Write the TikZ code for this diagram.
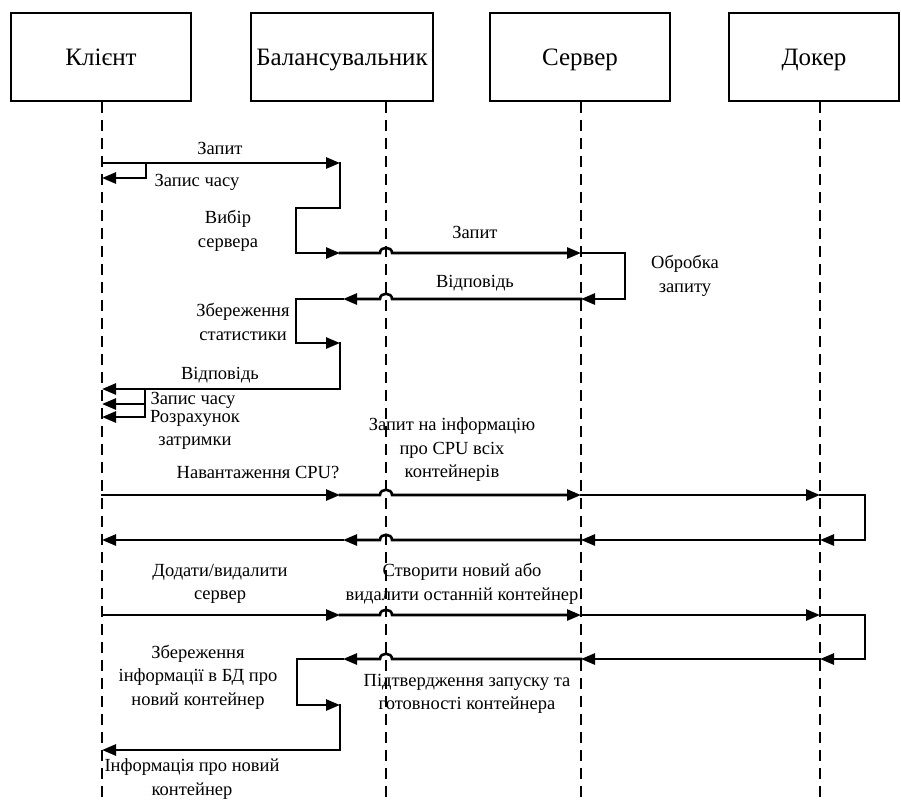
\documentclass[tikz,border=0pt]{standalone}
\usepackage{fontspec}
\setmainfont{Liberation Serif}
\usetikzlibrary{arrows.meta}
\begin{document}
\begin{tikzpicture}[x=1pt,y=-1pt,
  box/.style={draw,line width=2.6pt,minimum height=88pt,inner sep=0pt,text height=17pt,text depth=1pt,font=\fontsize{25}{30}\selectfont},
  life/.style={line width=2.6pt,dash pattern=on 11pt off 7pt},
  msg/.style={line width=2.6pt,line cap=rect},
  arr/.style={msg,-{Triangle[length=14pt,width=11pt]}},
  lbl/.style={align=center,inner sep=0pt,font=\fontsize{18.5}{23.5}\selectfont}]
\useasboundingbox (0,0) rectangle (901,800);
% participants
\node[box,minimum width=180pt] (kl) at (101,57) {Клієнт};
\node[box,minimum width=182pt] (bal) at (342,57) {Балансувальник};
\node[box,minimum width=180pt] (srv) at (580,57) {Сервер};
\node[box,minimum width=170pt] (dok) at (814,57) {Докер};
% lifelines
\coordinate (klend) at (102,800);
\coordinate (balend) at (386,800);
\coordinate (srvend) at (581,800);
\coordinate (dokend) at (820,800);
\draw[life] (102,102) -- (klend);
\draw[life] (386,102) -- (balend);
\draw[life] (581,102) -- (srvend);
\draw[life] (820,102) -- (dokend);
% block 1
\draw[arr] (102,163) -- (340,163);
\draw[arr] (146,163) -- (146,178) -- (102,178);
\draw[arr] (340,163) -- (340,208) -- (296,208) -- (296,253) -- (340,253);
\draw[arr] (340,253) -- (380,253) .. controls (380,246) and (392,246) .. (392,253) -- (581,253);
\draw[arr] (581,253) -- (625,253) -- (625,299) -- (581,299);
\draw[arr] (581,299) -- (392,299) .. controls (392,292) and (380,292) .. (380,299) -- (343,299);
\draw[arr] (343,299) -- (296,299) -- (296,343) -- (340,343);
\draw[arr] (340,343) -- (340,389) -- (102,389);
\draw[arr] (145,389) -- (145,417) -- (102,417);
\draw[arr] (145,404) -- (102,404);
% block 2
\draw[arr] (102,495) -- (340,495);
\draw[arr] (340,495) -- (380,495) .. controls (380,488) and (392,488) .. (392,495) -- (581,495);
\draw[arr] (581,495) -- (820,495);
\draw[arr] (820,495) -- (865,495) -- (865,540) -- (820,540);
\draw[arr] (820,540) -- (581,540);
\draw[arr] (581,540) -- (392,540) .. controls (392,533) and (380,533) .. (380,540) -- (343,540);
\draw[arr] (343,540) -- (102,540);
% block 3
\draw[arr] (102,615) -- (340,615);
\draw[arr] (340,615) -- (380,615) .. controls (380,608) and (392,608) .. (392,615) -- (581,615);
\draw[arr] (581,615) -- (820,615);
\draw[arr] (820,615) -- (865,615) -- (865,659) -- (820,659);
\draw[arr] (820,659) -- (581,659);
\draw[arr] (581,659) -- (392,659) .. controls (392,652) and (380,652) .. (380,659) -- (343,659);
\draw[arr] (343,659) -- (297,659) -- (297,705) -- (340,705);
\draw[arr] (340,705) -- (340,750) -- (102,750);
% labels
\node[lbl] (l1) at (220,148) {Запит};
\node[lbl] (l2) at (197,182) {Запис часу};
\node[lbl] (l3) at (228,231) {Вибір\\сервера};
\node[lbl] (l4) at (475,232) {Запит};
\node[lbl] (l5) at (475,283) {Відповідь};
\node[lbl] (l6) at (685,276) {Обробка\\запиту};
\node[lbl] (l7) at (243,322) {Збереження\\статистики};
\node[lbl] (l8) at (220,375) {Відповідь};
\node[lbl] (l9) at (193,400) {Запис часу};
\node[lbl] (l10) at (195,430) {Розрахунок\\затримки};
\node[lbl] (l11) at (258,472) {Навантаження CPU?};
\node[lbl] (l12) at (452,450) {Запит на інформацію\\про CPU всіх\\контейнерів};
\node[lbl] (l13) at (220,584) {Додати/видалити\\сервер};
\node[lbl] (l14) at (462,584) {Створити новий або\\видалити останній контейнер};
\node[lbl] (l15) at (198,677) {Збереження\\інформації в БД про\\новий контейнер};
\node[lbl] (l16) at (467,694) {Підтвердження запуску та\\готовності контейнера};
\node[lbl] (l17) at (192,779) {Інформація про новий\\контейнер};
\end{tikzpicture}
\end{document}
